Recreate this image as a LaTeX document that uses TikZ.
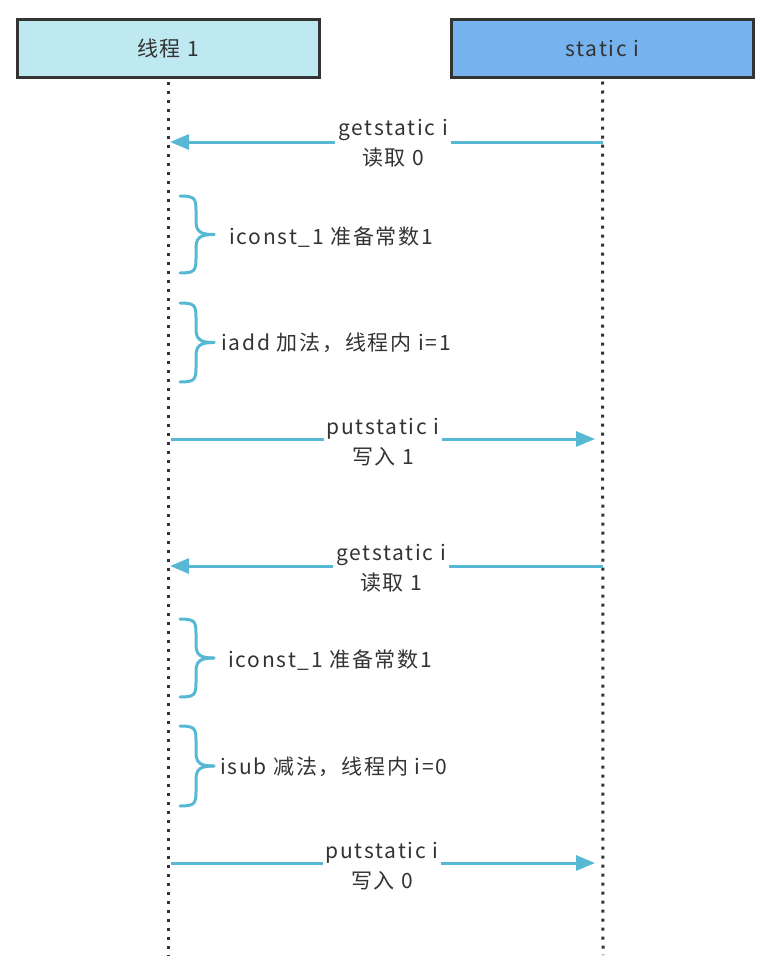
\documentclass[tikz,border=0pt]{standalone}
\usepackage{fontspec}
\setmainfont{Noto Sans CJK SC}[LetterSpace=8.5]
\usetikzlibrary{arrows.meta}
\definecolor{boxline}{HTML}{333333}
\definecolor{thfill}{HTML}{BEE9F0}
\definecolor{stfill}{HTML}{76B2EE}
\definecolor{flow}{HTML}{56B8D2}
\definecolor{txt}{HTML}{333333}
\tikzset{
  actor/.style={draw=boxline, line width=3pt, minimum width=302pt, minimum height=57pt, inner sep=0pt, font=\fontsize{21}{25}\selectfont, text=txt},
  life/.style={draw=boxline, line width=3pt, dash pattern=on 3pt off 6pt},
  msg/.style={draw=flow, line width=3pt, -{Triangle[length=19pt,width=15pt]}},
  lbl/.style={fill=white, inner sep=3pt, align=center, font=\fontsize{21}{30}\selectfont, text=txt},
  note/.style={anchor=west, inner sep=0pt, font=\fontsize{21}{25}\selectfont, text=txt},
  brc/.style={draw=flow, line width=3pt, line cap=round}
}
\newcommand{\mybrace}[3]{% x, ytop, ybottom
  \pgfmathsetmacro{\ym}{(#2+#3)/2}
  \draw[brc] (#1,#2) .. controls (#1+14,#2) and (#1+16,#2+2) .. (#1+16,#2+14)
    -- (#1+16,\ym-14) .. controls (#1+16,\ym-3) and (#1+20,\ym) .. (#1+34,\ym);
  \draw[brc] (#1,#3) .. controls (#1+14,#3) and (#1+16,#3-2) .. (#1+16,#3-14)
    -- (#1+16,\ym+14) .. controls (#1+16,\ym+3) and (#1+20,\ym) .. (#1+34,\ym);
}
\begin{document}
\begin{tikzpicture}[x=1pt,y=-1pt]
\useasboundingbox (0,0) rectangle (774,974);
\node[actor, fill=thfill] (th) at (168,48.5) {线程 1};
\node[actor, fill=stfill] (st) at (602.5,48.5) {static i};
\coordinate (thend) at (168,955);
\coordinate (stend) at (603,955);
\draw[life] (th.south) ++(0,3) -- (thend);
\draw[life] (st.south) ++(0,3) -- (stend);

% getstatic 0
\coordinate (g1s) at (603,142); \coordinate (g1e) at (170,142);
\draw[msg] (g1s) -- (g1e);
\node[lbl] (g1l) at (393,143) {getstatic i\\读取 0};

% braces
\mybrace{180}{196}{273}
\node[note] (n1) at (229,237) {iconst\_1 准备常数1};
\mybrace{180}{303}{382}
\node[note] (n2) at (221,343) {iadd 加法，线程内 i=1};

% putstatic 1
\coordinate (p1s) at (171,439); \coordinate (p1e) at (595,439);
\draw[msg] (p1s) -- (p1e);
\node[lbl] (p1l) at (383,442) {putstatic i\\写入 1};

% getstatic 1
\coordinate (g2s) at (603,566); \coordinate (g2e) at (170,566);
\draw[msg] (g2s) -- (g2e);
\node[lbl] (g2l) at (391,568) {getstatic i\\读取 1};

\mybrace{180}{619}{697}
\node[note] (n3) at (228,660) {iconst\_1 准备常数1};
\mybrace{180}{726}{806}
\node[note] (n4) at (220,767) {isub 减法，线程内 i=0};

% putstatic 0
\coordinate (p2s) at (171,863); \coordinate (p2e) at (595,863);
\draw[msg] (p2s) -- (p2e);
\node[lbl] (p2l) at (382,866) {putstatic i\\写入 0};
\end{tikzpicture}
\end{document}
